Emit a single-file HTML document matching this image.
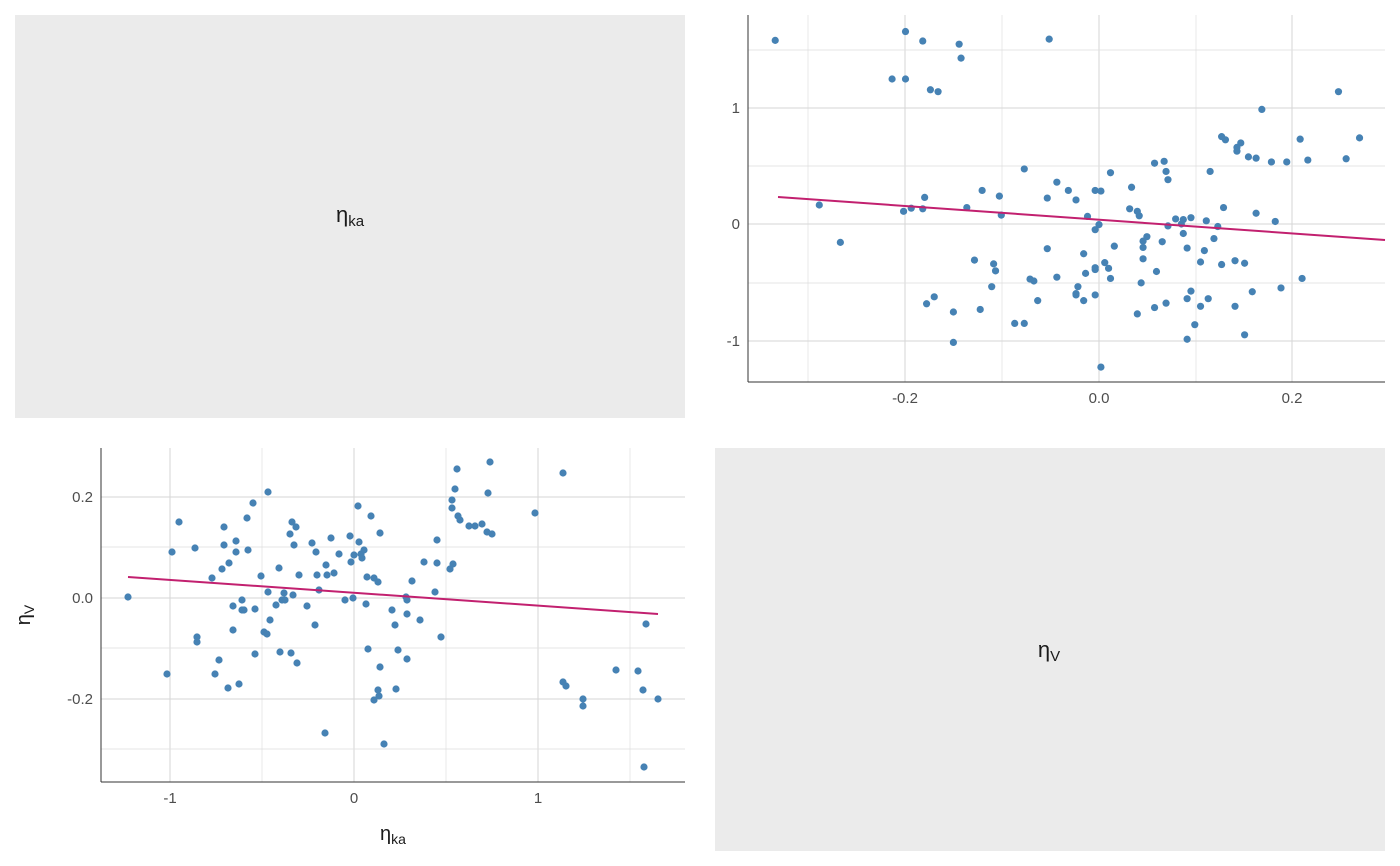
<!DOCTYPE html>
<html><head><meta charset="utf-8"><style>
body{margin:0;background:#fff;}
svg{display:block;font-family:"Liberation Sans",Arial,sans-serif;}
.t{fill:#4d4d4d;font-size:15px;}
.g{stroke:#dedede;stroke-width:0.7;}
.gm{stroke:#d6d6d6;stroke-width:1;}
</style></head><body>
<svg id="s" width="1400" height="866" viewBox="0 0 1400 866" xmlns="http://www.w3.org/2000/svg">
<rect x="15" y="15" width="670" height="403" fill="#ebebeb"/>
<text x="350" y="222" font-size="22" text-anchor="middle" fill="#1a1a1a">η<tspan font-size="15" dy="4">ka</tspan></text>
<rect x="715" y="448" width="670" height="403" fill="#ebebeb"/>
<text x="1049" y="657" font-size="22" text-anchor="middle" fill="#1a1a1a">η<tspan font-size="15" dy="4">V</tspan></text>
<g id="grid"></g>
<g id="pts"></g>
<line x1="778" y1="197" x2="1385" y2="240" stroke="#c2206f" stroke-width="2"/>
<line x1="128" y1="577" x2="658" y2="614" stroke="#c2206f" stroke-width="2"/>
<line x1="748" y1="15" x2="748" y2="382" stroke="#333" stroke-width="1"/>
<line x1="748" y1="382" x2="1385" y2="382" stroke="#333" stroke-width="1"/>
<line x1="101" y1="448" x2="101" y2="782" stroke="#333" stroke-width="1"/>
<line x1="101" y1="782" x2="685" y2="782" stroke="#333" stroke-width="1"/>
<g class="t">
<text x="740" y="113" text-anchor="end">1</text>
<text x="740" y="229" text-anchor="end">0</text>
<text x="740" y="346" text-anchor="end">-1</text>
<text x="905" y="403" text-anchor="middle">-0.2</text>
<text x="1099" y="403" text-anchor="middle">0.0</text>
<text x="1292" y="403" text-anchor="middle">0.2</text>
<text x="93" y="502" text-anchor="end">0.2</text>
<text x="93" y="603" text-anchor="end">0.0</text>
<text x="93" y="704" text-anchor="end">-0.2</text>
<text x="170" y="803" text-anchor="middle">-1</text>
<text x="354" y="803" text-anchor="middle">0</text>
<text x="538" y="803" text-anchor="middle">1</text>
</g>
<text x="393" y="840" font-size="20" text-anchor="middle" fill="#1a1a1a">η<tspan font-size="14" dy="4">ka</tspan></text>
<text transform="translate(30,615) rotate(-90)" font-size="20" text-anchor="middle" fill="#1a1a1a">η<tspan font-size="14" dy="4">V</tspan></text>
</svg>
<script>
var NS="http://www.w3.org/2000/svg",g=document.getElementById('grid'),p=document.getElementById('pts');
function L(x1,y1,x2,y2,c){var l=document.createElementNS(NS,'line');l.setAttribute('x1',x1);l.setAttribute('y1',y1);l.setAttribute('x2',x2);l.setAttribute('y2',y2);l.setAttribute('class',c);g.appendChild(l);}
[905,1099,1292].forEach(function(x){L(x,15,x,382,'gm')});
[808,1002,1196].forEach(function(x){L(x,15,x,382,'g')});
[108,224,341].forEach(function(y){L(748,y,1385,y,'gm')});
[50,166,283].forEach(function(y){L(748,y,1385,y,'g')});
[170,354,538].forEach(function(x){L(x,448,x,782,'gm')});
[262,446,630].forEach(function(x){L(x,448,x,782,'g')});
[497,598,699].forEach(function(y){L(101,y,685,y,'gm')});
[547,648,749].forEach(function(y){L(101,y,685,y,'g')});
var d=[[128,597],[167,674],[172,552],[179,522],[195,548],[197,642],[197,637],[212,578],[215,674],[219,660],[222,569],[224,545],[224,527],[228,688],[229,563],[233,630],[233,606],[236,541],[236,552],[239,684],[242,600],[242,610],[244,610],[247,518],[248,550],[253,503],[255,654],[255,609],[261,576],[264,632],[267,634],[268,592],[268,492],[270,620],[276,605],[279,568],[280,652],[282,600],[284,593],[285,600],[290,534],[291,653],[292,522],[293,595],[294,545],[296,527],[297,663],[299,575],[307,606],[312,543],[315,625],[316,552],[317,575],[319,590],[325,733],[326,565],[327,575],[331,538],[334,573],[339,554],[345,600],[350,536],[351,562],[353,598],[354,555],[358,506],[359,542],[361,554],[362,558],[364,550],[366,604],[367,577],[368,649],[371,516],[374,578],[374,700],[378,582],[378,690],[379,696],[380,533],[380,667],[384,744],[392,610],[395,625],[396,689],[398,650],[406,597],[407,600],[407,614],[407,659],[412,581],[420,620],[424,562],[435,592],[437,540],[437,563],[441,637],[450,569],[452,500],[452,508],[453,564],[455,489],[457,469],[458,516],[460,520],[469,526],[475,526],[482,524],[487,532],[488,493],[490,462],[492,534],[535,513],[563,473],[563,682],[566,686],[583,706],[583,699],[616,670],[638,671],[643,690],[644,767],[646,624],[658,699]];
function C(x,y){var c=document.createElementNS(NS,'circle');c.setAttribute('cx',x);c.setAttribute('cy',y);c.setAttribute('r',3.6);c.setAttribute('fill','#4682b4');p.appendChild(c);}
d.forEach(function(a){C(a[0],a[1]);var ka=(a[0]-354)/184,v=(598-a[1])/505;C(1099+v*967.5,224-ka*116.5);});
</script>
</body></html>
